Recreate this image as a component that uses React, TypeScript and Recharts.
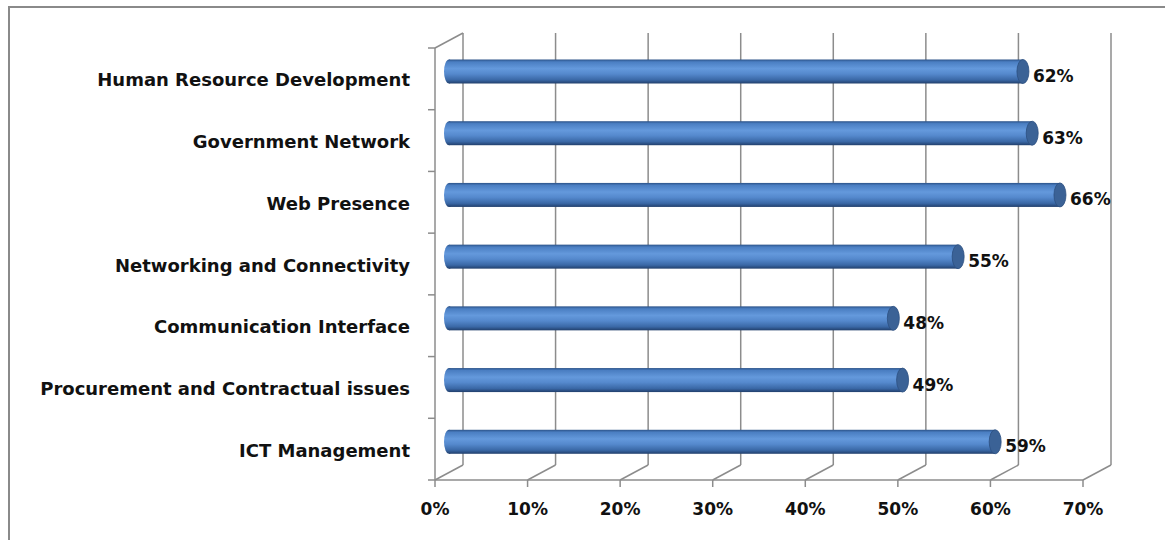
import { Bar, BarChart, CartesianGrid, LabelList, XAxis, YAxis } from 'recharts';

// Issue areas, top to bottom, and share of respondents (%)
const categories = [
  'Human Resource Development',
  'Government Network',
  'Web Presence',
  'Networking and Connectivity',
  'Communication Interface',
  'Procurement and Contractual issues',
  'ICT Management',
];
const shares = [62, 63, 66, 55, 48, 49, 59];
const xTicks = [0, 10, 20, 30, 40, 50, 60, 70];

const data = categories.map((name, i) => ({ name, value: shares[i] }));

// layout of the fake 3D box
const W = 1165;
const H = 540;
const PLOT_LEFT = 435;
const PLOT_TOP = 48;
const PLOT_BOTTOM = 480;
const DEPTH_X = 28;
const DEPTH_Y = 15;
const GRID = '#8c8c8c';
const FONT = '"DejaVu Sans", sans-serif';

const textStyle = {
  fontFamily: FONT,
  fontWeight: 700,
  fontSize: 18,
  fill: '#111',
};
const smallText = { ...textStyle, fontSize: 17 };

function WallLine(props: any) {
  const { x1, y1, y2, index } = props;
  const top = y1 ?? PLOT_TOP;
  const bottom = y2 ?? PLOT_BOTTOM;
  return (
    <g key={`wall-${index ?? x1}`}>
      <line
        x1={x1 + DEPTH_X}
        y1={top - DEPTH_Y}
        x2={x1 + DEPTH_X}
        y2={bottom - DEPTH_Y}
        stroke={GRID}
        strokeWidth={1.5}
      />
      <line
        x1={x1}
        y1={bottom}
        x2={x1 + DEPTH_X}
        y2={bottom - DEPTH_Y}
        stroke={GRID}
        strokeWidth={1.5}
      />
      {Math.abs(x1 - PLOT_LEFT) < 1 && (
        <line
          x1={x1}
          y1={top}
          x2={x1 + DEPTH_X}
          y2={top - DEPTH_Y}
          stroke={GRID}
          strokeWidth={1.5}
        />
      )}
    </g>
  );
}

function Cylinder(props: any) {
  const { x, y, width, height, index } = props;
  const X = x + DEPTH_X / 2;
  const Y = y - DEPTH_Y / 2;
  const cy = Y + height / 2;
  const id = `cyl-${index}`;
  return (
    <g>
      <defs>
        <linearGradient id={id} x1="0" y1="0" x2="0" y2="1">
          <stop offset="0%" stopColor="#2b5288" />
          <stop offset="10%" stopColor="#4a7ec2" />
          <stop offset="38%" stopColor="#6499dc" />
          <stop offset="60%" stopColor="#5589cd" />
          <stop offset="85%" stopColor="#3a68a6" />
          <stop offset="100%" stopColor="#213f6c" />
        </linearGradient>
      </defs>
      <ellipse cx={X} cy={cy} rx={5} ry={height / 2} fill={`url(#${id})`} />
      <rect x={X} y={Y} width={width} height={height} fill={`url(#${id})`} />
      <ellipse
        cx={X + width}
        cy={cy}
        rx={6}
        ry={height / 2}
        fill="#3b6296"
        stroke="#2c4f80"
        strokeWidth={0.8}
      />
    </g>
  );
}

function ValueLabel(props: any) {
  const { x, y, width, height, value } = props;
  return (
    <text
      x={x + width + DEPTH_X / 2 + 10}
      y={y + height / 2 - DEPTH_Y / 2 + 10.5}
      style={smallText}
    >
      {`${value}%`}
    </text>
  );
}

function CategoryTick(props: any) {
  const { payload, index } = props;
  const c = payload.coordinate;
  const half = payload.offset ?? (PLOT_BOTTOM - PLOT_TOP) / categories.length / 2;
  return (
    <g>
      <text x={PLOT_LEFT - 25} y={c + 7.5} textAnchor="end" style={textStyle}>
        {payload.value}
      </text>
      <line x1={PLOT_LEFT - 7} y1={c - half} x2={PLOT_LEFT} y2={c - half} stroke={GRID} strokeWidth={1.5} />
      {index === categories.length - 1 && (
        <line x1={PLOT_LEFT - 7} y1={c + half} x2={PLOT_LEFT} y2={c + half} stroke={GRID} strokeWidth={1.5} />
      )}
    </g>
  );
}

function PercentTick(props: any) {
  const { x, payload } = props;
  return (
    <text x={x} y={PLOT_BOTTOM + 35} textAnchor="middle" style={smallText}>
      {`${payload.value}%`}
    </text>
  );
}

export default function App() {
  return (
    <div
      style={{
        position: 'absolute',
        left: 0,
        top: 0,
        width: W,
        height: H,
        overflow: 'hidden',
        background: '#fff',
      }}
    >
      <div
        style={{
          position: 'absolute',
          left: 8,
          top: 6,
          width: 1200,
          height: 600,
          border: '2px solid #8a8a8a',
        }}
      />
      <div style={{ position: 'absolute', left: 0, top: 0 }}>
        <BarChart
          width={W}
          height={H}
          data={data}
          layout="vertical"
          margin={{ top: PLOT_TOP, right: W - 1083, bottom: 0, left: 8 }}
          barSize={24}
        >
          <CartesianGrid horizontal={false} vertical={WallLine} stroke={GRID} />
          <XAxis
            type="number"
            domain={[0, 70]}
            ticks={xTicks}
            height={H - PLOT_BOTTOM}
            axisLine={{ stroke: GRID, strokeWidth: 1.5 }}
            tickLine={{ stroke: GRID, strokeWidth: 1.5 }}
            tickSize={7}
            tick={PercentTick}
            interval={0}
          />
          <YAxis
            type="category"
            dataKey="name"
            width={PLOT_LEFT - 8}
            axisLine={{ stroke: GRID, strokeWidth: 1.5 }}
            tickLine={false}
            tick={CategoryTick}
            interval={0}
          />
          <Bar dataKey="value" shape={Cylinder} isAnimationActive={false}>
            <LabelList dataKey="value" content={ValueLabel} />
          </Bar>
        </BarChart>
      </div>
    </div>
  );
}
